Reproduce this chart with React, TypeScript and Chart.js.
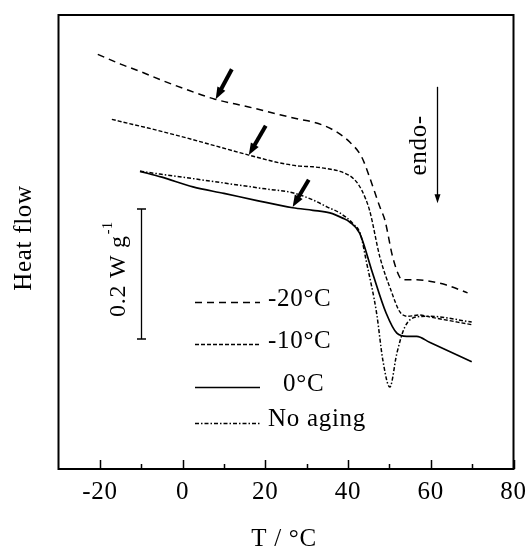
import React, { useEffect, useRef } from 'react';
import { Chart, registerables } from 'chart.js';

Chart.register(...registerables);

const FONT = "'Liberation Serif', 'Times New Roman', serif";
const SPACING = '0.7px';

// ---- data (T in °C, heat flow in W/g, arbitrary offset) ----
const t20 = [-20.5, -15, -10, -5, 0, 7.8, 16, 23.5, 28.3, 31.5, 36.3, 40.4, 43.3, 45.2, 47.7, 48.9, 50.8, 52.5, 53.2, 56.6, 59.7, 63.8, 68.9];
const hf20 = [0.638, 0.623, 0.611, 0.598, 0.586, 0.569, 0.557, 0.545, 0.538, 0.534, 0.522, 0.503, 0.48, 0.449, 0.403, 0.383, 0.326, 0.295, 0.291, 0.291, 0.289, 0.283, 0.271];

const t10 = [-17.1, -12, -8.6, 0, 8, 16, 23.5, 28.3, 31.5, 35, 38.5, 41.6, 43.3, 45.2, 47.7, 50.6, 52.5, 54.4, 57.3, 59.7, 69.9];
const hf10 = [0.538, 0.53, 0.525, 0.511, 0.497, 0.483, 0.471, 0.466, 0.465, 0.462, 0.457, 0.445, 0.429, 0.398, 0.326, 0.271, 0.242, 0.235, 0.237, 0.234, 0.222];

const t0 = [-10.3, -5, 2.5, 10, 18, 26.6, 31.5, 35.6, 38.7, 40.4, 42.8, 45.9, 49.2, 51.8, 54.2, 56.6, 59.7, 69.9];
const hf0 = [0.458, 0.449, 0.434, 0.424, 0.413, 0.402, 0.398, 0.394, 0.386, 0.38, 0.363, 0.302, 0.24, 0.209, 0.204, 0.204, 0.195, 0.165];

const tNo = [-10.3, 0, 10, 20, 26.6, 31.5, 35, 38, 41.1, 43, 44.5, 46.9, 48.4, 50.1, 51.8, 53.7, 56.6, 59.7, 69.9];
const hfNo = [0.458, 0.449, 0.44, 0.431, 0.425, 0.414, 0.403, 0.394, 0.378, 0.361, 0.317, 0.24, 0.168, 0.126, 0.178, 0.218, 0.234, 0.235, 0.226];

const seriesLabels = ['-20°C', '-10°C', '0°C', 'No aging'];
const xTicks = [-20, 0, 20, 40, 60, 80];
const xMinorTicks = [-10, 10, 30, 50, 70];

// annotation anchors (data coordinates)
const arrowTipT = [8.0, 16.0, 26.6];
const arrowTipHF = [0.569, 0.483, 0.403];
const arrowTailT = [11.9, 20.1, 30.5];
const arrowTailHF = [0.615, 0.528, 0.445];
const scaleBarT = -10;
const scaleBarHF = [0.2, 0.4];
const scaleLabelT = -13.9;
const scaleLabelHF = 0.234;
const endoArrowT = 61.4;
const endoArrowHF = [0.588, 0.409];
const endoTextT = 58.8;
const endoTextHF = 0.498;

const toPts = (xs: number[], ys: number[]) => xs.map((x, i) => ({ x, y: ys[i] }));

function drawArrow(ctx: CanvasRenderingContext2D, x1: number, y1: number, x2: number, y2: number, w: number, hl: number, hw: number) {
  const ang = Math.atan2(y2 - y1, x2 - x1);
  const c = Math.cos(ang), s = Math.sin(ang);
  const bx = x2 - hl * c, by = y2 - hl * s;
  ctx.lineWidth = w;
  ctx.setLineDash([]);
  ctx.beginPath();
  ctx.moveTo(x1, y1);
  ctx.lineTo(bx + c, by + s);
  ctx.stroke();
  ctx.beginPath();
  ctx.moveTo(x2, y2);
  ctx.lineTo(bx - (hw / 2) * s, by + (hw / 2) * c);
  ctx.lineTo(bx + (hw / 2) * s, by - (hw / 2) * c);
  ctx.closePath();
  ctx.fill();
}

const decorPlugin = {
  id: 'decor',
  beforeDraw(chart: any) {
    (chart.ctx as any).letterSpacing = SPACING;
  },
  afterDraw(chart: any) {
    const { ctx, chartArea: a, scales } = chart;
    const xs = scales.x, ys = scales.y;
    ctx.save();
    (ctx as any).letterSpacing = SPACING;
    ctx.strokeStyle = '#000';
    ctx.fillStyle = '#000';
    ctx.setLineDash([]);

    // frame
    ctx.lineWidth = 2;
    ctx.strokeRect(a.left, a.top, a.right - a.left, a.bottom - a.top);

    // inward ticks on bottom axis
    ctx.lineWidth = 1.5;
    ctx.beginPath();
    xTicks.forEach((v) => {
      const px = Math.round(xs.getPixelForValue(v)) + 0.5;
      ctx.moveTo(px, a.bottom);
      ctx.lineTo(px, a.bottom - 9);
    });
    xMinorTicks.forEach((v) => {
      const px = Math.round(xs.getPixelForValue(v)) + 0.5;
      ctx.moveTo(px, a.bottom);
      ctx.lineTo(px, a.bottom - 5);
    });
    ctx.stroke();

    // axis titles
    ctx.font = `25px ${FONT}`;
    ctx.textAlign = 'center';
    ctx.textBaseline = 'middle';
    ctx.fillText('T / °C', (a.left + a.right) / 2 - 2, 539);
    ctx.save();
    ctx.translate(24, 238);
    ctx.rotate(-Math.PI / 2);
    ctx.fillText('Heat flow', 0, 0);
    ctx.restore();

    // bold arrows
    arrowTipT.forEach((t, i) => {
      drawArrow(
        ctx,
        xs.getPixelForValue(arrowTailT[i]), ys.getPixelForValue(arrowTailHF[i]),
        xs.getPixelForValue(t), ys.getPixelForValue(arrowTipHF[i]),
        4, 12, 9
      );
    });

    // endo arrow + text
    const ex = Math.round(xs.getPixelForValue(endoArrowT)) + 0.5;
    drawArrow(ctx, ex, ys.getPixelForValue(endoArrowHF[0]), ex, ys.getPixelForValue(endoArrowHF[1]), 1.3, 9, 6);
    ctx.save();
    ctx.translate(xs.getPixelForValue(endoTextT), ys.getPixelForValue(endoTextHF));
    ctx.rotate(-Math.PI / 2);
    ctx.font = `25px ${FONT}`;
    ctx.textAlign = 'center';
    ctx.textBaseline = 'alphabetic';
    ctx.fillText('endo-', 0, 0);
    ctx.restore();

    // scale bar
    const sx = Math.round(xs.getPixelForValue(scaleBarT)) + 0.5;
    const sy1 = ys.getPixelForValue(scaleBarHF[0]);
    const sy2 = ys.getPixelForValue(scaleBarHF[1]);
    ctx.lineWidth = 1.3;
    ctx.beginPath();
    ctx.moveTo(sx, sy1); ctx.lineTo(sx, sy2);
    ctx.moveTo(sx - 4.5, sy1); ctx.lineTo(sx + 4.5, sy1);
    ctx.moveTo(sx - 4.5, sy2); ctx.lineTo(sx + 4.5, sy2);
    ctx.stroke();
    ctx.save();
    ctx.translate(xs.getPixelForValue(scaleLabelT), ys.getPixelForValue(scaleLabelHF));
    ctx.rotate(-Math.PI / 2);
    ctx.textAlign = 'left';
    ctx.textBaseline = 'alphabetic';
    ctx.font = `24px ${FONT}`;
    const main = '0.2 W g';
    ctx.fillText(main, 0, 0);
    const w = ctx.measureText(main).width;
    ctx.font = `14px ${FONT}`;
    ctx.fillText('-1', w + 1, -13);
    ctx.restore();

    // legend
    const rowY = [302, 344, 387, 423];
    const lx1 = a.left + 136.5, lx2 = a.left + 201.5;
    ctx.font = `25px ${FONT}`;
    ctx.textAlign = 'left';
    ctx.textBaseline = 'middle';
    chart.data.datasets.forEach((ds: any, i: number) => {
      ctx.save();
      ctx.lineWidth = ds.borderWidth;
      ctx.setLineDash(ds.borderDash || []);
      ctx.beginPath();
      ctx.moveTo(lx1, rowY[i] + 0.5);
      ctx.lineTo(lx2, rowY[i] + 0.5);
      ctx.stroke();
      ctx.restore();
      const indent = /^[0-9]/.test(ds.label) ? 15 : 0;
      ctx.fillText(ds.label, a.left + 209.5 + indent, rowY[i] - (i === 3 ? 4 : 2.5));
    });

    ctx.restore();
  },
};

export default function App() {
  const ref = useRef<HTMLCanvasElement | null>(null);
  useEffect(() => {
    if (!ref.current) return;
    const common = {
      borderColor: '#000',
      pointRadius: 0,
      fill: false,
      cubicInterpolationMode: 'monotone' as const,
    };
    const chart = new Chart(ref.current, {
      type: 'line',
      data: {
        datasets: [
          { ...common, label: seriesLabels[0], data: toPts(t20, hf20), borderWidth: 1.5, borderDash: [7, 5] },
          { ...common, label: seriesLabels[1], data: toPts(t10, hf10), borderWidth: 1.4, borderDash: [4, 2] },
          { ...common, label: seriesLabels[2], data: toPts(t0, hf0), borderWidth: 1.7, borderDash: [] },
          { ...common, label: seriesLabels[3], data: toPts(tNo, hfNo), borderWidth: 1.5, borderDash: [4, 2, 1.5, 2] },
        ],
      },
      options: {
        animation: false,
        responsive: true,
        maintainAspectRatio: false,
        devicePixelRatio: 1,
        layout: { padding: { left: 58.5, right: 15.5, top: 15, bottom: 0 } },
        plugins: { legend: { display: false }, tooltip: { enabled: false } },
        events: [],
        scales: {
          x: {
            type: 'linear',
            min: -30,
            max: 80,
            grid: { display: false, drawTicks: false },
            border: { display: false },
            ticks: {
              color: '#000',
              font: { family: FONT, size: 25 },
              padding: 8,
              maxRotation: 0,
              autoSkip: false,
            },
            afterBuildTicks: (s: any) => {
              s.ticks = xTicks.map((v) => ({ value: v }));
            },
            afterFit: (s: any) => {
              s.height = 81;
              s.paddingLeft = 0;
              s.paddingRight = 0;
            },
          },
          y: {
            type: 'linear',
            display: false,
            min: 0,
            max: 0.6985,
          },
        },
      },
      plugins: [decorPlugin],
    } as any);
    return () => chart.destroy();
  }, []);
  return (
    <div style={{ position: 'absolute', left: 0, top: 0, width: 529, height: 550 }}>
      <canvas ref={ref} />
    </div>
  );
}
